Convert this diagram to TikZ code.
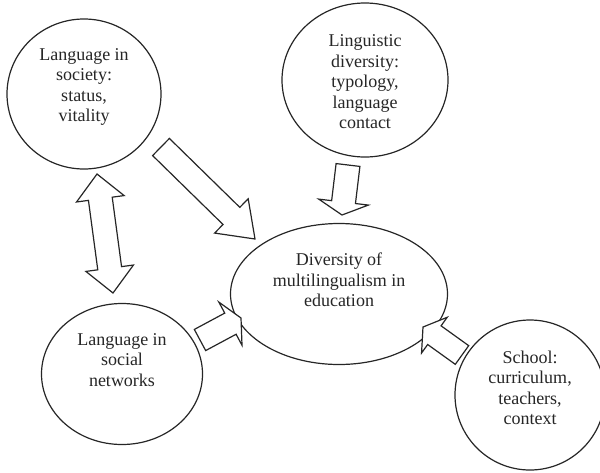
\documentclass[tikz,border=0pt]{standalone}
\usepackage{fontspec}
\setmainfont{Liberation Serif}
\usetikzlibrary{calc,shapes.geometric}

% Hollow block arrow: #1 tail, #2 tip, #3 half shaft width, #4 half head width, #5 head length
\newcommand\bkarrow[5]{%
  \coordinate (hb) at ($(#2)!#5!(#1)$);
  \draw[blockline]
    ($(#1)!#3!90:(#2)$) -- ($(hb)!#3!90:(#2)$) -- ($(hb)!#4!90:(#2)$) -- (#2)
    -- ($(hb)!#4!-90:(#2)$) -- ($(hb)!#3!-90:(#2)$) -- ($(#1)!#3!-90:(#2)$) -- cycle;
}
% Hollow double-headed block arrow between #1 and #2
\newcommand\bkdarrow[5]{%
  \coordinate (hb) at ($(#2)!#5!(#1)$);
  \coordinate (ha) at ($(#1)!#5!(#2)$);
  \draw[blockline]
    ($(ha)!#3!90:(#2)$) -- ($(hb)!#3!90:(#2)$) -- ($(hb)!#4!90:(#2)$) -- (#2)
    -- ($(hb)!#4!-90:(#2)$) -- ($(hb)!#3!-90:(#2)$) -- ($(ha)!#3!-90:(#2)$)
    -- ($(ha)!#4!-90:(#2)$) -- (#1) -- ($(ha)!#4!90:(#2)$) -- cycle;
}

\tikzset{
  bubble/.style={draw=black!85, line width=1.2pt, ellipse, inner sep=0pt, fill=white},
  label text/.style={align=center, font=\fontsize{18}{20.5}\selectfont, text=black!85},
  blockline/.style={draw=black!85, line width=1.2pt, fill=white, line join=miter},
}

\begin{document}
\begin{tikzpicture}[x=1pt, y=-1pt]
\useasboundingbox (0,0) rectangle (600,472);

% outer topics and the central ellipse
\node[bubble, minimum width=154pt, minimum height=150pt] (soc)  at (84,94)   {};
\node[bubble, minimum width=166pt, minimum height=154pt] (ling) at (365,80)  {};
\node[bubble, minimum width=217pt, minimum height=141pt] (div)  at (339,294) {};
\node[bubble, minimum width=161pt, minimum height=141pt] (net)  at (122,374) {};
\node[bubble, minimum width=150pt, minimum height=150pt] (sch)  at (530,395) {};

\node[label text] (socT)  at ([yshift=7pt]soc.center)   {Language in\\society:\\status,\\vitality};
\node[label text] (lingT) at ([yshift=-2pt]ling.center) {Linguistic\\diversity:\\typology,\\language\\contact};
\node[label text] (divT)  at ([yshift=14pt]div.center)  {Diversity of\\multilingualism in\\education};
\node[label text] (netT)  at ([yshift=14pt]net.center)  {Language in\\social\\networks};
\node[label text] (schT)  at ([yshift=7pt]sch.center)   {School:\\curriculum,\\teachers,\\context};

% arrow end points
\coordinate (a1s) at (161,147); \coordinate (a1e) at (255,239);
\coordinate (a2s) at (348,165); \coordinate (a2e) at (342,215);
\coordinate (a3s) at (200,340); \coordinate (a3e) at (241,318);
\coordinate (a4s) at (462,355); \coordinate (a4e) at (423,327);
\coordinate (a5s) at (97,174);  \coordinate (a5e) at (113,293);

% block arrows
\bkarrow{a1s}{a1e}{12pt}{24pt}{33pt}
\bkarrow{a2s}{a2e}{12pt}{25pt}{13pt}
\bkarrow{a3s}{a3e}{12pt}{24.5pt}{12pt}
\bkarrow{a4s}{a4e}{11.5pt}{22pt}{14pt}
\bkdarrow{a5s}{a5e}{12pt}{24pt}{25pt}
\end{tikzpicture}
\end{document}
